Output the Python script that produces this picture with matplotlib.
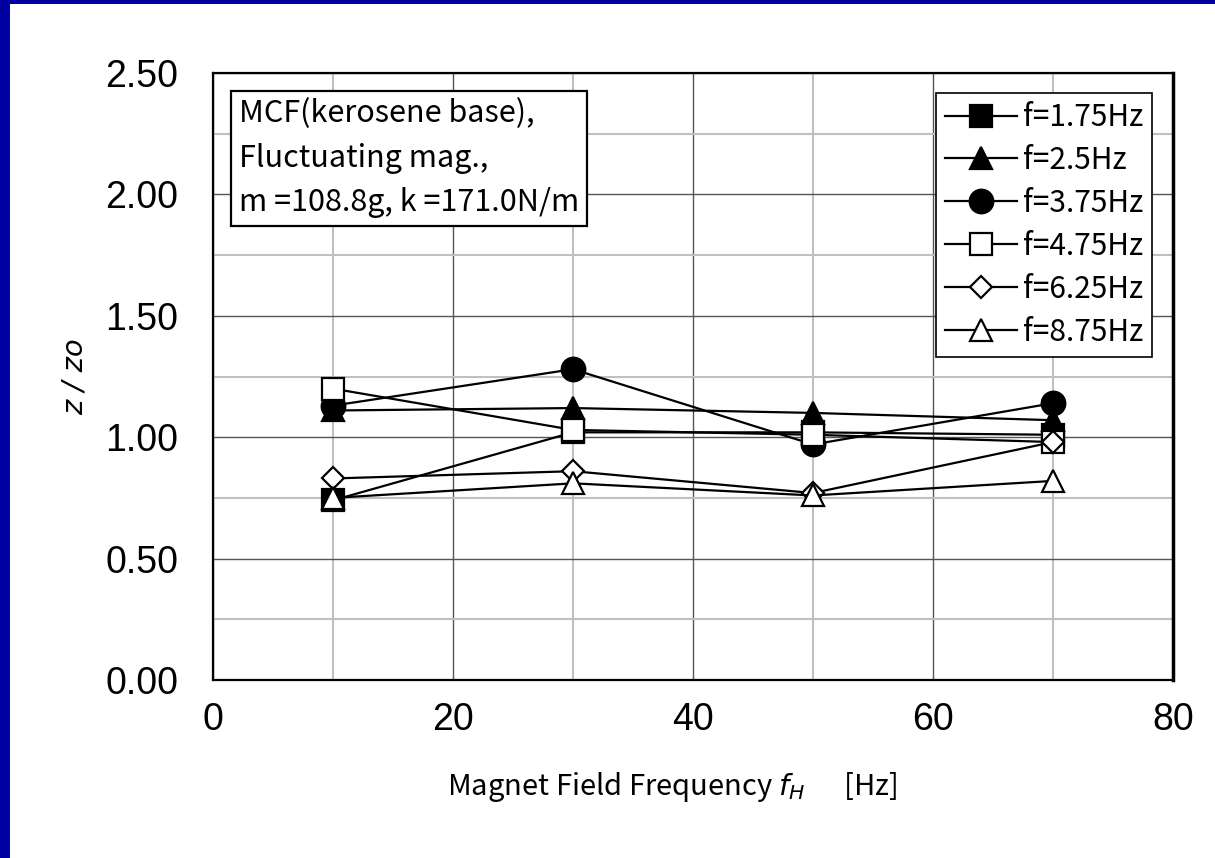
import matplotlib
matplotlib.use("Agg")
import matplotlib.pyplot as plt
from matplotlib.ticker import MultipleLocator
from matplotlib.patches import Rectangle

## data
fh = [10, 30, 50, 70]
labels = ["f=1.75Hz", "f=2.5Hz", "f=3.75Hz", "f=4.75Hz", "f=6.25Hz", "f=8.75Hz"]
z_175 = [0.74, 1.02, 1.02, 1.01]
z_25 = [1.11, 1.12, 1.10, 1.07]
z_375 = [1.13, 1.28, 0.97, 1.14]
z_475 = [1.20, 1.03, 1.01, 0.98]
z_625 = [0.83, 0.86, 0.77, 0.98]
z_875 = [0.75, 0.81, 0.76, 0.82]
xticks = [0, 20, 40, 60, 80]
yticks = [0.0, 0.5, 1.0, 1.5, 2.0, 2.5]

series = [z_175, z_25, z_375, z_475, z_625, z_875]
# marker, filled?, size
styles = [("s", True, 16), ("^", True, 16), ("o", True, 17),
          ("s", False, 16), ("D", False, 11), ("^", False, 16)]

gothic = ["Noto Sans CJK JP", "DejaVu Sans"]
arial = ["Liberation Sans", "DejaVu Sans"]

fig = plt.figure(figsize=(12.15, 8.58), dpi=100)
fig.patch.set_facecolor("white")
# blue frame on the top and left edge
fig.patches.append(Rectangle((0, 0), 10 / 1215, 1, transform=fig.transFigure,
                             facecolor="#0000a0", edgecolor="none", zorder=0))
fig.patches.append(Rectangle((0, 1 - 4 / 858), 1, 4 / 858, transform=fig.transFigure,
                             facecolor="#0000a0", edgecolor="none", zorder=0))

ax = fig.add_axes([213 / 1215, 1 - 680 / 858, 960 / 1215, 607 / 858])

for y, lab, (m, filled, ms) in zip(series, labels, styles):
    ax.plot(fh, y, color="black", lw=1.6, marker=m, markersize=ms,
            markerfacecolor="black" if filled else "white",
            markeredgecolor="black", markeredgewidth=1.6, label=lab, zorder=3)

ax.set_xlim(0, 80)
ax.set_ylim(0, 2.5)
ax.set_xticks(xticks)
ax.set_yticks(yticks)
ax.set_yticklabels(["%.2f" % v for v in yticks])
ax.xaxis.set_minor_locator(MultipleLocator(10))
ax.yaxis.set_minor_locator(MultipleLocator(0.25))
ax.grid(which="major", color="#555555", lw=1.0, zorder=1)
ax.grid(which="minor", color="#c0c0c0", lw=1.5, zorder=1)
ax.tick_params(which="both", length=0)
ax.tick_params(axis="y", pad=25)
ax.tick_params(axis="x", pad=16)
for t in ax.get_xticklabels() + ax.get_yticklabels():
    t.set_family(arial)
    t.set_fontsize(27)
for s in ax.spines.values():
    s.set_linewidth(1.6)
ax.spines["right"].set_linewidth(2.5)

ax.set_xlabel("Magnet Field Frequency $f_H$      [Hz]", family=gothic, fontsize=21)
ax.xaxis.set_label_coords(0.478, -0.148)
ax.set_ylabel("z / zo", family="DejaVu Sans", fontsize=21, style="italic")
ax.yaxis.set_label_coords(-0.13, 0.5)

ax.text(0.027, 0.958, "MCF(kerosene base),\nFluctuating mag.,\nm =108.8g, k =171.0N/m",
        transform=ax.transAxes, ha="left", va="top", family=gothic, fontsize=22,
        linespacing=1.55,
        bbox=dict(boxstyle="square,pad=0.25", facecolor="white", edgecolor="black", lw=1.6),
        zorder=5)

leg = ax.legend(loc="upper right", bbox_to_anchor=(0.978, 0.967), fancybox=False,
                framealpha=1, edgecolor="black", prop={"family": gothic, "size": 21.5},
                handlelength=2.4, handletextpad=0.2, labelspacing=0.4,
                borderpad=0.3, borderaxespad=0)
leg.get_frame().set_linewidth(1.2)
leg.set_zorder(6)

fig.savefig("out.png", dpi=100)
